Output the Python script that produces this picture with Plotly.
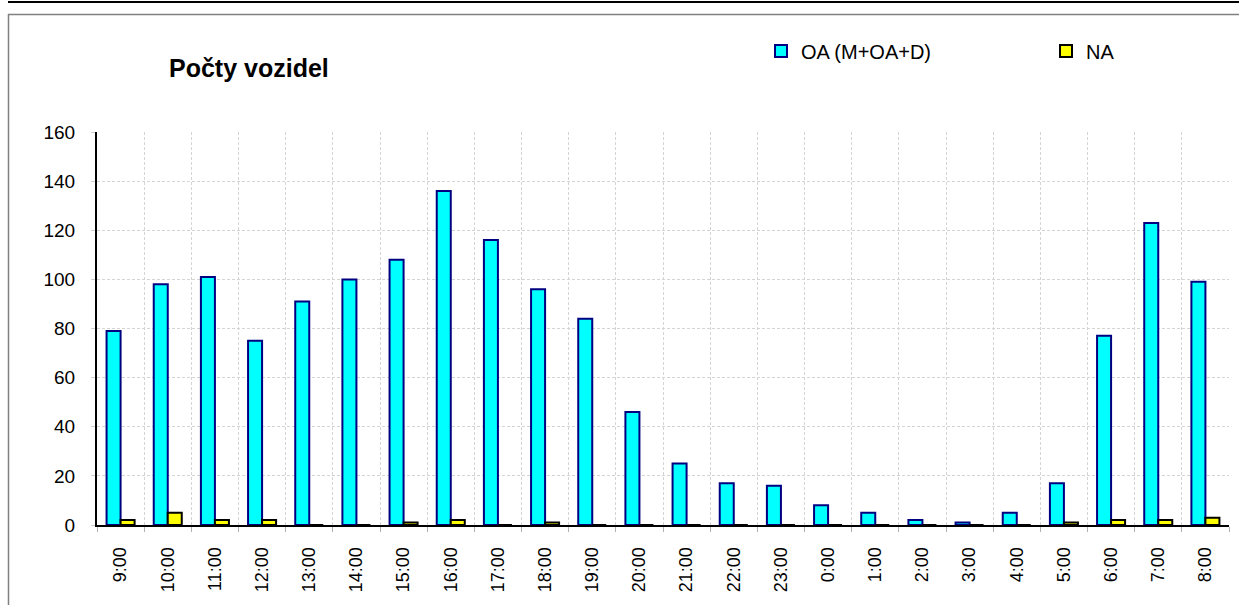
import plotly.graph_objects as go

hours = ["9:00", "10:00", "11:00", "12:00", "13:00", "14:00", "15:00", "16:00",
         "17:00", "18:00", "19:00", "20:00", "21:00", "22:00", "23:00", "0:00",
         "1:00", "2:00", "3:00", "4:00", "5:00", "6:00", "7:00", "8:00"]
oa_values = [79, 98, 101, 75, 91, 100, 108, 136, 116, 96, 84, 46, 25, 17, 16, 8,
             5, 2, 1, 5, 17, 77, 123, 99]
na_values = [2, 5, 2, 2, 0, 0, 1, 2, 0, 1, 0, 0, 0, 0, 0, 0,
             0, 0, 0, 0, 1, 2, 2, 3]
y_ticks = [0, 20, 40, 60, 80, 100, 120, 140, 160]

W, H = 1239, 605
ML, MR, MT, MB = 97, 10, 132, 80
PW, PH = W - ML - MR, H - MT - MB

def px_x(x):
    return (x - ML) / PW

def px_y(y):
    return (H - MB - y) / PH

FONT = "Liberation Sans, Arial, sans-serif"

fig = go.Figure()
fig.add_trace(go.Bar(
    x=hours, y=oa_values, name="OA (M+OA+D)", legend="legend", showlegend=True,
    marker=dict(color="#00FFFF", line=dict(color="#000080", width=2)),
))
fig.add_trace(go.Bar(
    x=hours, y=na_values, name="NA", legend="legend2", showlegend=True,
    marker=dict(color="#FFFF00", line=dict(color="#000000", width=2)),
))

grid = "#d4d4d4"
legend_common = dict(orientation="h", xanchor="left", yanchor="middle",
                     y=1 - 51 / H, yref="container",
                     font=dict(family=FONT, size=20, color="black"),
                     bgcolor="rgba(0,0,0,0)", itemclick=False, visible=True)
fig.update_layout(
    width=W, height=H, autosize=False, showlegend=True,
    margin=dict(l=ML, r=MR, t=MT, b=MB, autoexpand=False),
    paper_bgcolor="white", plot_bgcolor="white",
    barmode="group", bargap=0.406, bargroupgap=0,
    font=dict(family=FONT, color="black"),
    title=dict(text="<b>Počty vozidel</b>", x=169 / W, xanchor="left",
               y=1 - 68 / H, yanchor="middle",
               font=dict(family=FONT, size=25, color="black")),
    legend=dict(x=761 / W, xref="container", **legend_common),
    legend2=dict(x=1046 / W, xref="container", **legend_common),
    xaxis=dict(
        type="category", tickson="boundaries",
        showline=True, linecolor="black", linewidth=2,
        ticks="outside", ticklen=5, tickcolor="#b0b0b0",
        tickangle=-90, tickfont=dict(family=FONT, size=18, color="black"),
        ticklabelstandoff=13,
        showgrid=True, gridcolor=grid, griddash="3px,2px", gridwidth=1,
        range=[-0.5, len(hours) - 0.5], fixedrange=True,
    ),
    yaxis=dict(
        range=[0, 160], tickmode="array", tickvals=y_ticks,
        ticktext=[str(v) for v in y_ticks],
        showline=True, linecolor="black", linewidth=2,
        ticks="outside", ticklen=4, tickcolor="#d0d0d0",
        tickfont=dict(family=FONT, size=19, color="black"),
        ticklabelstandoff=12,
        showgrid=True, gridcolor=grid, griddash="3px,2px", gridwidth=1,
        zeroline=False, fixedrange=True,
    ),
    shapes=[
        dict(type="line", xref="paper", yref="paper",
             x0=px_x(8), x1=px_x(W), y0=px_y(2), y1=px_y(2),
             line=dict(color="black", width=2)),
        dict(type="line", xref="paper", yref="paper",
             x0=px_x(8), x1=px_x(W), y0=px_y(14.5), y1=px_y(14.5),
             line=dict(color="#808080", width=1.5)),
        dict(type="line", xref="paper", yref="paper",
             x0=px_x(8.5), x1=px_x(8.5), y0=px_y(14), y1=px_y(H),
             line=dict(color="#808080", width=1.5)),
    ],
)

fig.write_html(
    "out.html",
    config={"responsive": False, "displayModeBar": False},
    default_width=f"{W}px",
    default_height=f"{H}px",
    post_script="document.body.style.margin='0';document.body.style.overflow='hidden';",
)
